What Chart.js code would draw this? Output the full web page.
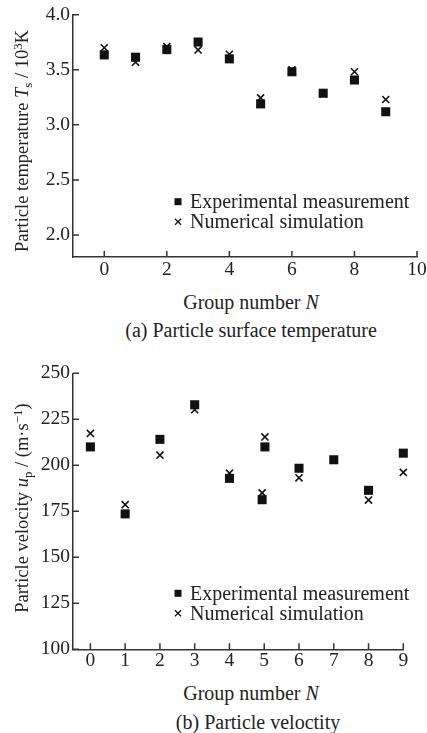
<!DOCTYPE html>
<html lang="en">
<head>
<meta charset="UTF-8" />
<title>Particle surface temperature and velocity</title>
<script src="https://cdn.jsdelivr.net/npm/chart.js"></script>
<style>
  body { margin: 0; background: #fff; }
  .page {
    position: relative;
    width: 427px;
    height: 733px;
    overflow: hidden;
    font-family: "Liberation Serif", "Times New Roman", serif;
    color: #222;
  }
  .page canvas { position: absolute; left: 0; }
  #tempChart { top: 0; }
  #velChart { top: 350px; }
  .label {
    position: absolute;
    white-space: nowrap;
    font-size: 20px;
    line-height: 1;
    transform: translate(-50%, -50%);
  }
  .ytitle { font-size: 18.5px; transform: translate(-50%, -50%) rotate(-90deg); }
  .sub { font-size: 0.7em; position: relative; top: 0.3em; }
  .sup { font-size: 0.7em; position: relative; top: -0.45em; }
</style>
</head>
<body>
<div class="page">
  <canvas id="tempChart" width="440" height="290"></canvas>
  <canvas id="velChart" width="440" height="330"></canvas>

  <div class="label ytitle" style="left:22px; top:141px;">Particle temperature <i>T</i><span class="sub">s</span> / 10<span class="sup">3</span>K</div>
  <div class="label" style="left:251px; top:302px;">Group number <i>N</i></div>
  <div class="label" style="left:251px; top:330px;">(a) Particle surface temperature</div>

  <div class="label ytitle" style="left:22px; top:508px;">Particle velocity <i>u</i><span class="sub">p</span> / (m·s<span class="sup">−1</span>)</div>
  <div class="label" style="left:251px; top:693px;">Group number <i>N</i></div>
  <div class="label" style="left:258px; top:722px;">(b) Particle veloctity</div>
</div>

<script>
  // (a) particle surface temperature, 10^3 K
  const tempGroups = [0, 1, 2, 3, 4, 5, 6, 7, 8, 9];
  const tempMeasured = [3.635, 3.614, 3.683, 3.752, 3.599, 3.19, 3.482, 3.287, 3.407, 3.119];
  const tempSimulated = [3.70, 3.569, 3.71, 3.68, 3.641, 3.245, 3.50, 3.28, 3.482, 3.23];
  const tempTicksX = [0, 2, 4, 6, 8, 10];
  const tempTicksY = [2.0, 2.5, 3.0, 3.5, 4.0];

  // (b) particle velocity, m/s (two groups plotted around N = 5)
  const velGroups = [0, 1, 2, 3, 4, 4.94, 5.02, 6, 7, 8, 9];
  const velMeasured = [210, 173.6, 214.1, 232.9, 192.9, 181.3, 210, 198.4, 203, 186.4, 206.6];
  const velSimulated = [217.3, 178.6, 205.5, 230.2, 195.7, 185, 215.4, 193.2, 203, 181.1, 196.1];
  const velTicksX = [0, 1, 2, 3, 4, 5, 6, 7, 8, 9];
  const velTicksY = [100, 125, 150, 175, 200, 225, 250];

  const seriesNames = ["Experimental measurement", "Numerical simulation"];

  Chart.defaults.font.family = '"Liberation Serif", "Times New Roman", serif';
  Chart.defaults.color = "#222";

  // ticks pointing into the plot, like the printed figure
  const inwardTicks = {
    id: "inwardTicks",
    afterDraw(chart, args, o) {
      const { ctx, chartArea: a, scales } = chart;
      ctx.save();
      ctx.strokeStyle = "#333";
      ctx.lineWidth = 1.5;
      ctx.beginPath();
      scales.x.ticks.forEach(t => {
        const px = scales.x.getPixelForValue(t.value);
        ctx.moveTo(px, a.bottom);
        ctx.lineTo(px, a.bottom - 6);
      });
      scales.y.ticks.forEach(t => {
        const py = scales.y.getPixelForValue(t.value);
        ctx.moveTo(a.left, py);
        ctx.lineTo(a.left + 6, py);
      });
      ctx.stroke();
      ctx.restore();
    }
  };

  // legend sitting inside the plot area
  const insideLegend = {
    id: "insideLegend",
    afterDraw(chart, args, o) {
      const ctx = chart.ctx;
      ctx.save();
      ctx.font = o.font;
      ctx.textBaseline = "middle";
      chart.data.datasets.forEach((ds, i) => {
        const y = o.y + i * o.rowGap;
        ctx.fillStyle = "#111";
        ctx.strokeStyle = "#111";
        if (ds.pointStyle === "rect") {
          ctx.fillRect(o.x - o.size / 2, y - o.size / 2, o.size, o.size);
        } else {
          const h = o.size / 2 - 0.5;
          ctx.lineWidth = 1.3;
          ctx.beginPath();
          ctx.moveTo(o.x - h, y - h); ctx.lineTo(o.x + h, y + h);
          ctx.moveTo(o.x - h, y + h); ctx.lineTo(o.x + h, y - h);
          ctx.stroke();
        }
        ctx.fillStyle = "#222";
        ctx.fillText(ds.label, o.textX, y + 1);
      });
      ctx.restore();
    }
  };

  function drawScatter(id, s) {
    const ctx = document.getElementById(id).getContext("2d");
    return new Chart(ctx, {
      type: "scatter",
      data: {
        datasets: [
          {
            label: seriesNames[0],
            data: s.groups.map((g, i) => ({ x: g, y: s.measured[i] })),
            pointStyle: "rect",
            pointRadius: 6.4,
            backgroundColor: "#111",
            borderColor: "#111",
            borderWidth: 0,
            clip: false
          },
          {
            label: seriesNames[1],
            data: s.groups.map((g, i) => ({ x: g, y: s.simulated[i] })),
            pointStyle: "crossRot",
            pointRadius: 5,
            borderColor: "#111",
            borderWidth: 1.6,
            clip: false
          }
        ]
      },
      options: {
        responsive: false,
        animation: false,
        events: [],
        layout: { autoPadding: false, padding: s.padding },
        plugins: {
          legend: { display: false },
          tooltip: { enabled: false },
          insideLegend: s.legend
        },
        scales: {
          x: {
            type: "linear",
            min: s.xMin,
            max: s.xMax,
            afterBuildTicks: sc => { sc.ticks = s.xTicks.map(v => ({ value: v })); },
            afterFit: sc => { sc.height = s.xHeight; },
            grid: { display: true, drawOnChartArea: false, drawTicks: false },
            border: { display: true, color: "#333", width: 1.5 },
            ticks: { font: { size: 19.5 }, padding: s.xPad, maxRotation: 0, autoSkip: false, callback: v => String(v) }
          },
          y: {
            type: "linear",
            min: s.yMin,
            max: s.yMax,
            afterBuildTicks: sc => { sc.ticks = s.yTicks.map(v => ({ value: v })); },
            afterFit: sc => { sc.width = 73; },
            grid: { display: true, drawOnChartArea: false, drawTicks: false },
            border: { display: true, color: "#333", width: 1.5 },
            ticks: { font: { size: 19.5 }, padding: 3, autoSkip: false, callback: v => v.toFixed(s.decimals) }
          }
        }
      },
      plugins: [inwardTicks, insideLegend]
    });
  }

  drawScatter("tempChart", {
    groups: tempGroups, measured: tempMeasured, simulated: tempSimulated,
    xMin: -1, xMax: 10, yMin: 1.8, yMax: 4.0,
    xTicks: tempTicksX, yTicks: tempTicksY, decimals: 1,
    padding: { top: 14, right: 23, bottom: 0, left: 0 }, xHeight: 33, xPad: 1,
    legend: { x: 178, textX: 190, y: 201.7, rowGap: 20, size: 7, font: '20px "Liberation Serif", serif' }
  });

  drawScatter("velChart", {
    groups: velGroups, measured: velMeasured, simulated: velSimulated,
    xMin: -0.5, xMax: 9, yMin: 100, yMax: 250,
    xTicks: velTicksX, yTicks: velTicksY, decimals: 0,
    padding: { top: 23.3, right: 36.7, bottom: 0, left: 0 }, xHeight: 30.7, xPad: 0,
    legend: { x: 178, textX: 190, y: 243.3, rowGap: 20, size: 7, font: '20px "Liberation Serif", serif' }
  });
</script>
</body>
</html>
